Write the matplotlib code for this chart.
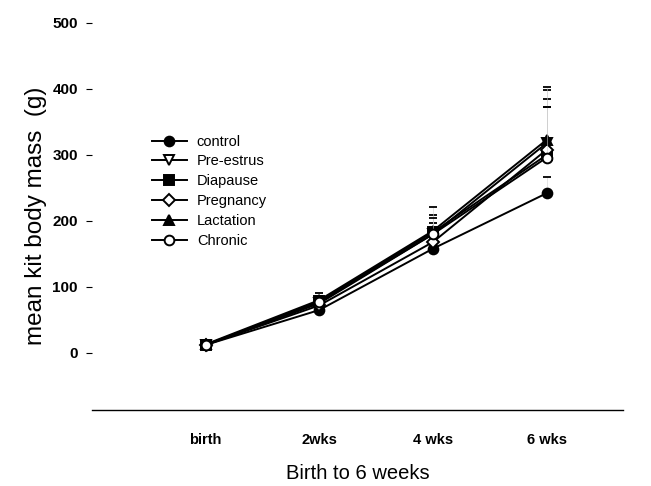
import numpy as np
import matplotlib.pyplot as plt

plt.rcParams['font.family'] = ['Liberation Sans', 'DejaVu Sans']

# sampling points and group means (g)
ages = ['birth', '2wks', '4 wks', '6 wks']
control = [12, 65, 158, 242]
pre_estrus = [12, 75, 180, 318]
diapause = [12, 78, 183, 300]
pregnancy = [12, 72, 168, 308]
lactation = [13, 80, 185, 323]
chronic = [12, 77, 180, 296]

# upper error bar lengths
err_control = [1, 4, 8, 25]
err_pre_estrus = [1, 6, 17, 80]
err_diapause = [1, 8, 26, 85]
err_pregnancy = [1, 6, 10, 64]
err_lactation = [1, 11, 36, 80]
err_chronic = [1, 8, 25, 76]

groups = [
    ('control', control, err_control, 'o', 'black'),
    ('Pre-estrus', pre_estrus, err_pre_estrus, 'v', 'white'),
    ('Diapause', diapause, err_diapause, 's', 'black'),
    ('Pregnancy', pregnancy, err_pregnancy, 'D', 'white'),
    ('Lactation', lactation, err_lactation, '^', 'black'),
    ('Chronic', chronic, err_chronic, 'o', 'white'),
]

x = np.arange(1, len(ages) + 1)

fig = plt.figure(figsize=(6.51, 4.86), dpi=100)
ax = fig.add_axes([0.141, 0.157, 0.816, 0.796])

for name, vals, err, mk, fc in groups:
    _, caps, stems = ax.errorbar(x, vals, yerr=[np.zeros(len(err)), err], fmt='none',
                                 ecolor='black', elinewidth=0.4, capsize=3, capthick=1.3)
    for st in stems:
        st.set_color('#d0d0d0')
    ax.plot(x, vals, color='black', lw=1.4, marker=mk, markersize=7 if mk != 'D' else 6,
            markerfacecolor=fc, markeredgecolor='black', markeredgewidth=1.4, label=name)

ax.set_xlim(0, 4.67)
ax.set_ylim(-86, 500)
ax.set_xticks(x)
ax.set_xticklabels(ages, fontsize=10.5, fontweight='bold')
ax.set_yticks([0, 100, 200, 300, 400, 500])
ax.set_yticklabels(['0', '100', '200', '300', '400', '500'], fontsize=11, fontweight='bold')
ax.tick_params(axis='x', length=0, pad=17)
ax.tick_params(axis='y', length=4, width=0.8, pad=6)

for s in ['top', 'right', 'left']:
    ax.spines[s].set_visible(False)
ax.spines['bottom'].set_linewidth(1.0)

ax.set_xlabel('Birth to 6 weeks', fontsize=14.5, labelpad=12)
ax.set_ylabel('mean kit body mass  (g)', fontsize=17.5, labelpad=4)

ax.legend(loc='upper left', bbox_to_anchor=(0.088, 0.745), frameon=False,
          fontsize=10.5, handlelength=2.4, handletextpad=0.7, labelspacing=0.4)

fig.savefig('out.png', dpi=100)
